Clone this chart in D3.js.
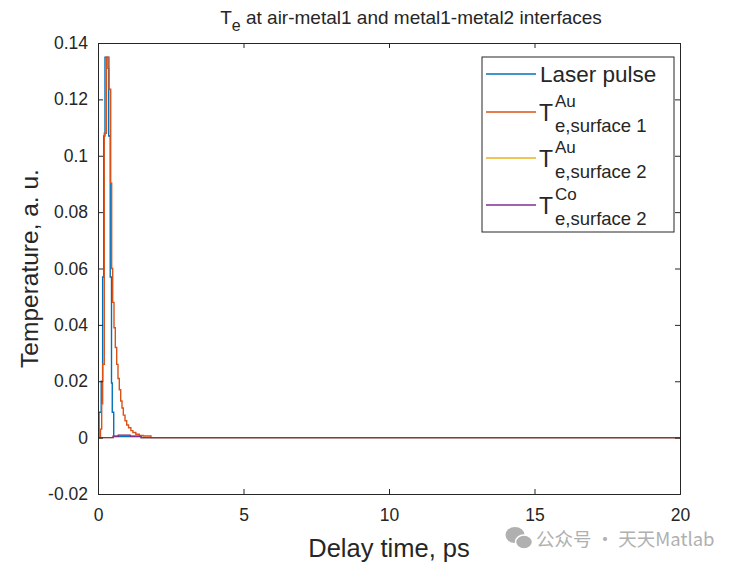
<!DOCTYPE html>
<html>
<head>
<meta charset="utf-8">
<script src="https://cdn.jsdelivr.net/npm/d3@7"></script>
<style>
  body { margin: 0; background: #fff; }
  text { font-family: "Liberation Sans", Arial, sans-serif; fill: #262626; }
</style>
</head>
<body>
<div id="chart"></div>
<script>
// data (time in ps, temperature in a.u.), drawn as stairs
const laserTime  = [0, 0.034, 0.11, 0.16, 0.196, 0.24, 0.344, 0.368, 0.42, 0.464, 0.49, 0.54, 1.48, 20];
const laserValue = [0, 0.009, 0.020, 0.057, 0.107, 0.135, 0.131, 0.107, 0.057, 0.0194, 0.009, 0.0004, 0, 0];

const auSurf1Time  = [0, 0.086, 0.127, 0.16, 0.216, 0.29, 0.378, 0.436, 0.47, 0.505, 0.55, 0.595, 0.643, 0.687,
                      0.732, 0.78, 0.825, 0.87, 0.928, 0.986, 1.05, 1.13, 1.2, 1.3, 1.42, 1.55, 1.82, 20];
const auSurf1Value = [0, 0.003, 0.012, 0.026, 0.108, 0.135, 0.1236, 0.0903, 0.060, 0.048, 0.039, 0.032, 0.026, 0.021,
                      0.017, 0.013, 0.0105, 0.008, 0.006, 0.0045, 0.0035, 0.0025, 0.0018, 0.0012, 0.0008, 0.0006, 0, 0];

const auSurf2Time  = [0, 0.52, 0.7, 1.1, 1.48, 20];
const auSurf2Value = [0, 0.0004, 0.0008, 0.0004, 0, 0];

const coSurf2Time  = [0, 0.52, 0.7, 1.1, 1.48, 20];
const coSurf2Value = [0, 0.0005, 0.0009, 0.0005, 0, 0];

const xTicks = [0, 5, 10, 15, 20];
const yTicks = [-0.02, 0, 0.02, 0.04, 0.06, 0.08, 0.1, 0.12, 0.14];
const yTickLabels = ["-0.02", "0", "0.02", "0.04", "0.06", "0.08", "0.1", "0.12", "0.14"];

const seriesNames  = ["Laser pulse", "Au|e,surface 1", "Au|e,surface 2", "Co|e,surface 2"];
const seriesColors = ["#0072BD", "#D95319", "#EDB120", "#7E2F8E"];

const W = 750, H = 562;
const margin = { top: 43, right: 70, bottom: 68, left: 98 };
const width = W - margin.left - margin.right;
const height = H - margin.top - margin.bottom;

const svg = d3.select("#chart").append("svg")
  .attr("width", W)
  .attr("height", H);

const g = svg.append("g")
  .attr("transform", `translate(${margin.left},${margin.top})`);

const x = d3.scaleLinear().domain([0, 20]).range([0, width]);
const y = d3.scaleLinear().domain([-0.02, 0.14]).range([height, 0]);

g.append("rect")
  .attr("width", width)
  .attr("height", height)
  .attr("fill", "#fff");

// clip for the lines
g.append("clipPath").attr("id", "clip")
  .append("rect").attr("width", width).attr("height", height);

// series
const series = [
  d3.zip(laserTime, laserValue),
  d3.zip(auSurf1Time, auSurf1Value),
  d3.zip(auSurf2Time, auSurf2Value),
  d3.zip(coSurf2Time, coSurf2Value)
];

const line = d3.line()
  .x(d => x(d[0]))
  .y(d => y(d[1]))
  .curve(d3.curveStepAfter);

const lines = g.append("g").attr("clip-path", "url(#clip)");
series.forEach((s, i) => {
  lines.append("path")
    .datum(s)
    .attr("fill", "none")
    .attr("stroke", seriesColors[i])
    .attr("stroke-width", 1.4)
    .attr("d", line);
});

// axes (ticks inside, box all round)
const tick = 5;
const xAxis = g.append("g")
  .attr("transform", `translate(0,${height})`)
  .call(d3.axisBottom(x).tickValues(xTicks).tickSize(-tick).tickPadding(15).tickFormat(d3.format("d")));
const yAxis = g.append("g")
  .call(d3.axisLeft(y).tickValues(yTicks).tickSize(-tick).tickPadding(10)
    .tickFormat((d, i) => yTickLabels[i]));
const xTop = g.append("g")
  .call(d3.axisTop(x).tickValues(xTicks).tickSize(-tick).tickFormat(""));
const yRight = g.append("g")
  .attr("transform", `translate(${width},0)`)
  .call(d3.axisRight(y).tickValues(yTicks).tickSize(-tick).tickFormat(""));

[xAxis, yAxis, xTop, yRight].forEach(a => {
  a.select(".domain").attr("stroke", "#262626").attr("stroke-width", 1);
  a.selectAll(".tick line").attr("stroke", "#262626");
  a.selectAll("text")
    .style("font-size", "17.5px")
    .style("font-family", "'Liberation Sans', Arial, sans-serif")
    .attr("fill", "#262626");
});
xAxis.selectAll("text").attr("dy", "0.71em");

// axis labels
svg.append("text")
  .attr("x", margin.left + width / 2)
  .attr("y", 557)
  .attr("text-anchor", "middle")
  .style("font-size", "25.5px")
  .text("Delay time, ps");

svg.append("text")
  .attr("transform", `translate(38,${margin.top + height / 2}) rotate(-90)`)
  .attr("text-anchor", "middle")
  .style("font-size", "24.5px")
  .text("Temperature, a. u.");

// title with subscript e
const title = svg.append("text")
  .attr("x", margin.left + width / 2 + 22)
  .attr("y", 24)
  .attr("text-anchor", "middle")
  .style("font-size", "19px");
title.append("tspan").text("T");
title.append("tspan").attr("dy", 7).style("font-size", "16px").text("e");
title.append("tspan").attr("dy", -7).text(" at air-metal1 and metal1-metal2 interfaces");

// legend
const legend = svg.append("g").attr("transform", "translate(482,57)");
legend.append("rect")
  .attr("width", 192)
  .attr("height", 175)
  .attr("fill", "#fff")
  .attr("stroke", "#262626")
  .attr("stroke-width", 1);

const legendY = [17, 55, 101, 148];
seriesNames.forEach((name, i) => {
  const row = legend.append("g").attr("transform", `translate(0,${legendY[i]})`);
  row.append("line")
    .attr("x1", 4).attr("x2", 54)
    .attr("stroke", seriesColors[i])
    .attr("stroke-width", 1.4);
  if (i === 0) {
    row.append("text")
      .attr("x", 58).attr("y", 8)
      .style("font-size", "22.5px")
      .text(name);
  } else {
    const [sup, sub] = name.split("|");
    row.append("text").attr("x", 57).attr("y", 9).style("font-size", "23px").text("T");
    row.append("text").attr("x", 73).attr("y", -5).style("font-size", "17px").text(sup);
    row.append("text").attr("x", 73).attr("y", 20).style("font-size", "18.5px").text(sub);
  }
});

// watermark (kept just below the x tick labels)
const wm = svg.append("g").attr("transform", "translate(505,530)");
wm.append("ellipse").attr("cx", 10).attr("cy", 5).attr("rx", 9.5).attr("ry", 8).attr("fill", "#b0b0b0");
wm.append("ellipse").attr("cx", 19).attr("cy", 12).attr("rx", 8.5).attr("ry", 7).attr("fill", "#b0b0b0")
  .attr("stroke", "#fff").attr("stroke-width", 1.5);
wm.append("text")
  .attr("x", 31).attr("y", 16)
  .style("font-family", "'Noto Sans CJK SC', sans-serif")
  .style("font-size", "18.5px")
  .style("fill", "#b0b0b0")
  .text("公众号 · 天天Matlab");
</script>
</body>
</html>
